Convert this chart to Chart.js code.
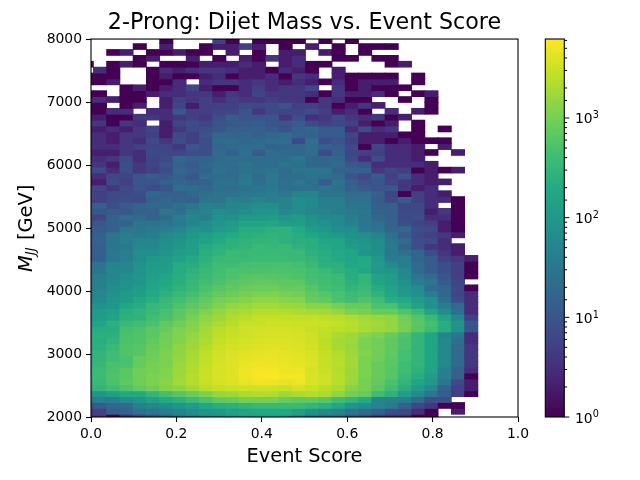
<!DOCTYPE html>
<html>
<head>
<meta charset="utf-8">
<title>2-Prong: Dijet Mass vs. Event Score</title>
<script src="https://cdn.jsdelivr.net/npm/chart.js@4/dist/chart.umd.js"></script>
<style>
body { margin: 0; background: #fff; }
canvas { position: absolute; left: 0; top: 0; }
</style>
</head>
<body>
<canvas id="heatmap" width="609" height="480"></canvas>
<canvas id="colorbar" width="640" height="480"></canvas>
<script>
// histogram bins (the first and last ones are cut by the axis limits)
const scoreFirstEdge = -0.0255;
const scoreBinWidth = 0.03105;
const massFirstEdge = 1949.6;
const massBinWidth = 93.4;

const xTicks = [0, 0.2, 0.4, 0.6, 0.8, 1];
const yTicks = [2000, 3000, 4000, 5000, 6000, 7000, 8000];
const countMax = 6200;

// counts, one line per mass bin, top row first
const counts = [
  [0, 0,0,0,0,0,1,0,0,0,5,1,0,1,1,1,1, 0,1,0,1],
  [0, 0,0,0,1,0,2,0,0,1,2,2,5,2,0,1,0, 2,0,1,0,1,1,1],
  [0, 0,1,2,0,1,1,2,1,1,0,2,0,1,0,2,2, 0,2,1,0,1],
  [0, 0,0,0,1,2,0,0,2,0,1,0,2,1,4,2,3, 0,0,1,1,0,1,1],
  [1, 0,1,2,1,0,1,1,1,2,2,2,3,2,0,2,3, 1,1,0,0,0,0,1,2],
  [0, 3,1,0,0,1,3,2,3,4,4,3,2,2,1,3,2, 1,0,2],
  [1, 1,1,0,0,1,2,1,1,2,3,1,2,2,3,1,4, 3,0,2,1,1,1,1,0,1],
  [1, 1,2,0,0,1,1,3,0,3,4,4,3,4,3,2,3, 2,1,3,1,2,2,2,0,1],
  [0, 0,0,1,2,1,2,3,6,2,1,1,3,5,3,4,4, 6,0,4,1,2,1,1,1],
  [1, 1,0,1,1,2,3,3,4,4,2,4,3,6,4,4,4, 3,1,4,2,2,3,1,0,1,2],
  [2, 3,2,1,1,0,2,5,4,5,3,5,4,4,5,4,4, 1,4,3,1,1,0,0,1,0,1],
  [1, 1,0,1,2,0,2,6,2,5,5,5,7,6,7,9,5, 5,4,1,2,4,2,0,0,0,1],
  [1, 1,3,3,0,3,3,11,5,5,6,6,10,4,7,6,6, 8,5,2,3,1,0,3,0,2,1],
  [2, 2,1,1,4,4,3,4,5,4,8,12,10,10,10,4,8, 3,4,7,4,3,4,1,2],
  [3, 4,1,4,3,0,2,6,8,6,9,11,12,13,10,9,12, 7,5,6,5,2,1,2,0,1],
  [2, 2,3,2,4,6,2,4,7,8,10,14,14,14,12,9,14, 18,12,12,3,7,3,4,0,1,0,1],
  [3, 3,2,4,4,5,2,7,5,9,18,18,18,14,18,20,15, 15,12,12,6,2,2,2,1,1],
  [3, 3,2,4,3,7,4,8,5,8,20,22,18,20,22,22,7, 22,8,10,5,2,2,1,2,1,1,1],
  [3, 3,3,4,5,6,6,4,10,8,18,20,22,22,16,18,18, 22,14,12,7,1,6,3,3,2,0,2],
  [2, 2,2,4,3,7,6,6,8,8,20,16,25,12,22,20,18, 22,7,14,6,5,5,3,3,2,1,0,2],
  [3, 3,4,7,3,6,7,18,14,16,20,22,22,22,22,22,30, 18,18,18,7,3,8,3,3,2],
  [4, 4,2,8,4,6,9,16,12,18,22,22,28,22,22,28,25, 18,18,20,10,10,3,3,3,3,2],
  [6, 7,3,8,4,5,8,18,14,16,28,22,28,25,28,22,30, 30,30,15,15,15,4,6,5,1,2,1,2],
  [3, 3,6,6,10,12,11,14,11,22,22,22,32,20,32,22,22, 28,25,22,10,7,12,5,9,3,2],
  [2, 2,7,5,10,10,14,18,14,16,24,24,35,25,32,25,30, 25,12,28,14,9,10,6,4,3,2,2],
  [5, 6,4,7,9,8,10,22,22,18,25,22,28,30,32,25,25, 25,28,25,15,12,10,10,4,2,3],
  [5, 5,7,7,8,18,14,14,18,24,28,28,32,35,40,32,50, 50,30,28,22,22,14,6,1,5,3,2],
  [5, 5,7,8,7,14,18,16,14,28,28,45,40,50,40,45,70, 60,40,40,25,25,12,7,12,5,3,3,1],
  [10, 14,8,12,16,18,18,25,30,45,40,50,60,70,70,45,70, 60,40,40,28,28,14,14,6,7,3,0,1],
  [9, 11,12,10,15,15,30,25,45,50,65,60,70,90,90,60,70, 55,50,40,35,30,16,14,7,7,2,4,1],
  [6, 6,14,22,20,16,20,40,55,45,80,80,110,110,120,90,110, 80,60,60,40,30,18,14,7,8,3,3,1],
  [8, 11,14,16,28,28,30,35,50,65,90,110,150,150,170,130,130, 90,75,60,45,30,25,15,8,6,5,2,1],
  [9, 12,14,30,30,35,40,50,80,75,110,130,220,220,250,260,200, 120,100,70,70,35,28,18,18,8,7,2,1],
  [10, 14,30,40,35,40,60,75,100,130,160,200,240,260,280,270,220, 180,130,110,80,70,50,25,12,7,5,4,2],
  [12, 16,30,40,50,55,70,85,120,150,200,250,280,300,300,260,240, 240,170,170,100,85,70,30,20,8,7,3],
  [10, 14,30,35,60,55,80,100,125,210,250,270,300,340,320,340,260, 240,200,170,120,100,70,35,15,8,4,3,2],
  [10, 14,32,40,65,65,90,120,140,240,280,340,330,340,350,350,340, 250,220,190,170,90,80,35,25,17,8,4,2],
  [10, 14,30,40,70,100,110,140,200,260,340,360,370,380,380,370,350, 300,230,200,160,190,100,40,40,17,12,5,4,2],
  [20, 28,50,55,80,110,120,210,220,300,400,400,450,470,470,490,450, 350,250,250,180,200,110,60,40,20,12,8,5,1],
  [20, 30,55,55,85,120,130,210,260,330,420,490,480,520,520,520,500, 420,350,260,220,170,100,90,60,20,12,8,5,1],
  [30, 40,55,70,90,130,160,220,300,360,460,530,600,620,600,580,530, 450,400,350,220,300,150,120,60,30,20,10,5,1],
  [30, 45,60,80,90,150,190,240,320,420,500,620,680,740,740,700,680, 480,420,350,250,300,170,120,80,40,30,12,6],
  [30, 45,65,85,115,170,210,280,340,490,620,720,820,860,860,800,800, 600,450,400,300,350,220,150,100,70,22,18,7,1],
  [35, 55,75,110,130,200,270,340,440,580,740,860,980,1100,1150,1050,950, 700,600,500,350,400,280,180,110,80,40,18,6,3],
  [40, 60,90,120,180,240,330,430,570,720,1000,1100,1300,1450,1450,1300,1250, 800,700,500,420,550,400,220,200,120,80,25,8,3],
  [55, 85,100,180,210,320,380,530,680,860,1150,1500,1600,1850,1850,1700,1600, 1300,1300,1000,800,800,500,480,280,150,80,40,20,3],
  [80, 110,130,240,290,350,470,660,830,1150,1450,1850,2000,2300,2300,2250,2100, 1900,1800,1500,1100,1000,800,800,550,350,170,70,25,3],
  [80, 120,150,260,280,420,500,680,1000,1350,1650,2200,2500,2800,2850,2800,2800, 2800,2600,2400,2200,1800,1600,1500,900,600,350,160,60,5],
  [110, 150,250,350,420,500,700,900,1200,1600,2000,2500,3000,3000,3200,3200,3100, 3100,3000,2800,2400,2000,1800,1500,1000,650,450,230,90,10],
  [150, 220,220,450,500,650,800,1100,1300,1900,2400,2800,3200,3400,3500,3500,3400, 2900,2700,2400,2300,2000,1700,1500,1000,600,400,220,80,9],
  [180, 250,250,500,550,650,900,1200,1500,1950,2600,3000,3300,3500,3700,3700,3500, 3300,2600,2000,1700,1300,1100,800,550,300,170,50,30,3],
  [170, 240,300,500,550,750,950,1200,1600,2100,2800,3200,3500,3800,3900,3900,3700, 3300,2500,1900,1700,1100,900,700,500,300,170,60,25,3],
  [180, 250,350,550,600,800,1000,1400,1700,2300,3000,3500,3800,4100,4200,4000,3900, 3400,2600,1900,1600,1100,950,700,500,300,160,60,22,4],
  [210, 300,400,550,600,850,1100,1400,1900,2600,3300,3800,4200,4400,4500,4300,4100, 3600,2800,2200,1700,1200,900,700,450,300,170,60,20,4],
  [210, 300,400,500,800,900,1100,1500,2000,2700,3500,4000,4400,4700,4800,4500,4300, 3800,2900,2300,1800,1100,900,650,450,300,170,60,20,4],
  [220, 320,500,500,800,1000,1100,1600,2100,2800,3600,4200,4700,5000,5100,4800,4500, 4000,2900,2400,1800,1100,800,650,400,300,170,60,20,4],
  [260, 380,500,650,900,1000,1200,1700,2200,3000,3600,4000,5000,5500,5800,5200,4800, 3700,3000,2300,1700,1100,800,600,400,270,150,40,15,3],
  [260, 380,550,650,900,1100,1200,1700,2300,3000,3700,4200,5200,5800,5900,5400,5500, 3800,3200,2400,1700,1100,800,600,350,220,120,40,15,1],
  [240, 350,500,700,900,1100,1300,1800,2300,2900,3500,3900,4500,5000,5000,4500,4800, 3800,3200,2400,1600,1000,750,500,300,170,100,30,7,2],
  [200, 300,400,550,700,900,1200,1400,1800,2400,2800,3000,3200,3200,3200,3000,3500, 3000,2500,2000,1300,1000,650,400,220,110,60,15,5,2],
  [70, 90,130,190,200,300,450,600,800,1100,1500,1700,2000,2200,2100,1700,2000, 2300,2000,1400,1000,800,400,250,120,60,30,13,5,1],
  [30, 40,40,65,90,140,200,250,350,500,700,800,1000,1000,1000,800,700, 700,600,400,300,200,50,45,40,20,8,8],
  [8, 12,18,20,45,50,70,90,110,180,220,250,300,350,350,350,350, 300,250,170,90,70,50,35,15,6,4,1,1],
  [4, 5,12,15,25,30,40,50,70,90,100,140,170,180,180,180,130, 80,60,50,30,20,14,8,7,3,1,0,2],
  [3, 4,1,3,5,8,12,25,35,60,70,90,120,130,130,110,60, 30,20,20,10,7,4,3,3,1,1]
];

const viridisStops = ['#440154','#482475','#414487','#355f8d','#2a788e','#21918c','#22a884','#44bf70','#7ad151','#bddf26','#fde725'];

function hexToRgb(hex) {
  return [1, 3, 5].map(i => parseInt(hex.substr(i, 2), 16));
}

// log colour scale, same as LogNorm(1, countMax) with viridis
function cellColor(count) {
  const t = Math.min(Math.log10(count) / Math.log10(countMax), 1) * (viridisStops.length - 1);
  const i = Math.min(Math.floor(t), viridisStops.length - 2);
  const a = hexToRgb(viridisStops[i]);
  const b = hexToRgb(viridisStops[i + 1]);
  const c = a.map((v, k) => Math.round(v + (b[k] - v) * (t - i)));
  return `rgb(${c[0]},${c[1]},${c[2]})`;
}

const font = 'DejaVu Sans';

// one floating bar per filled cell, one dataset per mass bin
const datasets = counts.map((row, r) => {
  const low = massFirstEdge + (counts.length - 1 - r) * massBinWidth;
  const cells = [];
  const colors = [];
  row.forEach((count, c) => {
    if (count > 0) {
      cells.push({ x: scoreFirstEdge + (c + 0.5) * scoreBinWidth, y: [low, low + massBinWidth] });
      colors.push(cellColor(count));
    }
  });
  return { data: cells, backgroundColor: colors, borderWidth: 0, grouped: false,
           barPercentage: 1, categoryPercentage: 1, inflateAmount: 0.4 };
});

const frame = {
  id: 'frame',
  afterDraw(chart) {
    const { ctx, chartArea: a } = chart;
    ctx.save();
    ctx.strokeStyle = '#000';
    ctx.lineWidth = 1.1;
    ctx.strokeRect(a.left, a.top, a.right - a.left, a.bottom - a.top);
    ctx.restore();
  }
};

// y label has an italic M with a subscript, the axis title can't do that
const massLabel = {
  id: 'massLabel',
  afterDraw(chart) {
    const ctx = chart.ctx;
    ctx.save();
    ctx.translate(32, 228);
    ctx.rotate(-Math.PI / 2);
    ctx.fillStyle = '#000';
    ctx.textBaseline = 'alphabetic';
    ctx.textAlign = 'left';
    let x = -44;
    ctx.font = `italic 19.4px "${font}"`;
    ctx.fillText('M', x, 0);
    x += ctx.measureText('M').width;
    ctx.font = `italic 13.6px "${font}"`;
    ctx.fillText('JJ', x, 3);
    x += ctx.measureText('JJ').width + 1;
    ctx.font = `19.4px "${font}"`;
    ctx.fillText(' [GeV]', x, 0);
    ctx.restore();
  }
};

new Chart(document.getElementById('heatmap'), {
  type: 'bar',
  data: { datasets: datasets },
  plugins: [frame, massLabel],
  options: {
    responsive: false,
    animation: false,
    devicePixelRatio: 1,
    layout: { padding: { left: 0, right: 91, top: 0, bottom: 0 } },
    plugins: {
      legend: { display: false },
      tooltip: { enabled: false },
      title: {
        display: true,
        fullSize: false,
        text: '2-Prong: Dijet Mass vs. Event Score',
        color: '#000',
        font: { family: font, size: 22.2, weight: 'normal' },
        padding: { top: 10, bottom: 2.4 }
      }
    },
    scales: {
      x: {
        type: 'linear',
        min: 0,
        max: 1,
        offset: false,
        afterBuildTicks: s => { s.ticks = xTicks.map(v => ({ value: v })); },
        afterFit: s => { s.height = 63; },
        grid: { offset: false, drawOnChartArea: false, tickLength: 5, tickColor: '#000', tickWidth: 1.1 },
        border: { display: false },
        ticks: { color: '#000', font: { family: font, size: 13.9 }, padding: 4, maxRotation: 0, autoSkip: false,
                 callback: v => v.toFixed(1) },
        title: { display: true, text: 'Event Score', color: '#000',
                 font: { family: font, size: 19.4 }, padding: { top: 0, bottom: 11 } }
      },
      y: {
        min: 2000,
        max: 8000,
        afterBuildTicks: s => { s.ticks = yTicks.map(v => ({ value: v })); },
        afterFit: s => { s.width = 91; },
        grid: { drawOnChartArea: false, tickLength: 5, tickColor: '#000', tickWidth: 1.1 },
        border: { display: false },
        ticks: { color: '#000', font: { family: font, size: 13.9 }, padding: 4, autoSkip: false,
                 callback: v => String(v) }
      }
    }
  }
});

const powerLabels = { 1: '0', 10: '1', 100: '2', 1000: '3' };

// mpl has long ticks on the decades and short ones between them, and 10^n labels
const barTicks = {
  id: 'barTicks',
  afterDraw(chart) {
    const { ctx, chartArea: a, scales: { y } } = chart;
    ctx.save();
    ctx.strokeStyle = '#000';
    ctx.fillStyle = '#000';
    ctx.lineWidth = 1;
    ctx.textBaseline = 'alphabetic';
    y.ticks.forEach(t => {
      const py = y.getPixelForValue(t.value);
      const power = powerLabels[t.value];
      ctx.beginPath();
      ctx.moveTo(a.right, py);
      ctx.lineTo(a.right + (power ? 5 : 2.8), py);
      ctx.stroke();
      if (power) {
        ctx.font = `13.9px "${font}"`;
        ctx.fillText('10', 575, py + 5.5);
        ctx.font = `9.7px "${font}"`;
        ctx.fillText(power, 592.8, py + 0.2);
      }
    });
    ctx.restore();
  }
};

function barGradient(context) {
  const { ctx, chartArea: a } = context.chart;
  if (!a) return '#000';
  const g = ctx.createLinearGradient(0, a.bottom, 0, a.top);
  viridisStops.forEach((c, i) => g.addColorStop(i / (viridisStops.length - 1), c));
  return g;
}

new Chart(document.getElementById('colorbar'), {
  type: 'bar',
  data: {
    labels: ['counts'],
    datasets: [{ data: [[1, countMax]], backgroundColor: barGradient, borderWidth: 0,
                 barPercentage: 1, categoryPercentage: 1 }]
  },
  plugins: [frame, barTicks],
  options: {
    responsive: false,
    animation: false,
    devicePixelRatio: 1,
    layout: { padding: { left: 545.3, right: 0, top: 39, bottom: 63 } },
    plugins: { legend: { display: false }, tooltip: { enabled: false } },
    scales: {
      x: { display: false },
      y: {
        type: 'logarithmic',
        position: 'right',
        min: 1,
        max: countMax,
        afterBuildTicks: s => { s.ticks = s.ticks.filter(t => t.value < countMax); },
        afterFit: s => { s.width = 75.7; },
        grid: { display: false },
        border: { display: false },
        ticks: { display: false, autoSkip: false }
      }
    }
  }
});
</script>
</body>
</html>
